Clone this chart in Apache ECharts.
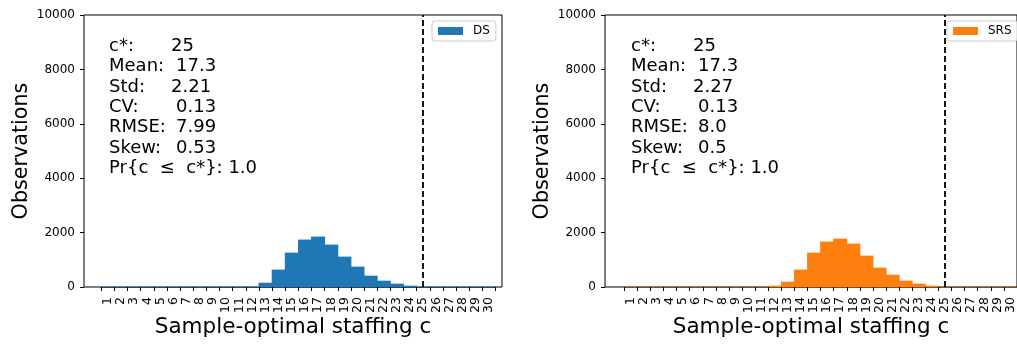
<!DOCTYPE html>
<html>
<head>
<meta charset="utf-8">
<script src="https://cdn.jsdelivr.net/npm/echarts@6/dist/echarts.min.js"></script>
<style>
  html, body { margin: 0; padding: 0; background: #fff; }
  #chart { width: 1017px; height: 345px; }
</style>
</head>
<body>
<div id="chart"></div>
<script>
// staffing levels on the x axis
var categories = ['1', '2', '3', '4', '5', '6', '7', '8', '9', '10',
  '11', '12', '13', '14', '15', '16', '17', '18', '19', '20',
  '21', '22', '23', '24', '25', '26', '27', '28', '29', '30'];

// histogram counts
var dsValues = [0, 0, 0, 0, 0, 0, 0, 0, 0, 0, 0, 0,
  158, 638, 1264, 1743, 1854, 1559, 1117, 748, 416, 232, 122, 48,
  0, 0, 0, 0, 0, 0];
var srsValues = [0, 0, 0, 0, 0, 0, 0, 0, 0, 0, 0, 48,
  195, 638, 1264, 1669, 1780, 1596, 1153, 711, 453, 232, 122, 48,
  0, 0, 0, 0, 0, 0];

var cStar = '25';
var yTicks = [0, 2000, 4000, 6000, 8000, 10000];

// stats box
var statLabels = ['c*:', 'Mean:', 'Std:', 'CV:', 'RMSE:', 'Skew:'];
var dsStats = ['25', '17.3', '2.21', '0.13', '7.99', '0.53'];
var srsStats = ['25', '17.3', '2.27', '0.13', '8.0', '0.5'];
var probLabel = 'Pr{c  \u2264  c*}: ';
var dsProb = '1.0';
var srsProb = '1.0';

var FONT = 'DejaVu Sans';
var BLUE = '#1f77b4', ORANGE = '#ff7f0e';
var TXT = 18, LH = 20.4;

function statsText(vals) {
  var lines = [];
  for (var i = 0; i < statLabels.length; i++) {
    var w = (i === 0 || i === 2) ? 'a' : 'b';
    lines.push('{' + w + '|' + statLabels[i] + '}{v|' + vals[i] + '}');
  }
  return lines.join('\n');
}

var richStyle = {
  a: { width: 62, fontSize: TXT, lineHeight: LH, fontFamily: FONT, color: '#000' },
  b: { width: 67, fontSize: TXT, lineHeight: LH, fontFamily: FONT, color: '#000' },
  v: { fontSize: TXT, lineHeight: LH, fontFamily: FONT, color: '#000' }
};

function frameX(grid) {
  return {
    gridIndex: grid, type: 'value', min: 0, max: 1,
    axisLine: { show: false }, axisTick: { show: false },
    axisLabel: { show: false }, splitLine: { show: false },
    name: 'Sample-optimal staffing c', nameLocation: 'middle', nameGap: 29,
    nameTextStyle: { fontSize: 21.5, fontFamily: FONT, color: '#000' }
  };
}
function barX(grid, baseColor) {
  return {
    gridIndex: grid, type: 'category', data: categories,
    axisLine: { show: true, lineStyle: { color: baseColor, width: 1 } },
    axisTick: { show: true, length: 4, lineStyle: { color: '#000', width: 1 } },
    axisLabel: { interval: 0, rotate: 90, margin: 10, fontSize: 12.5, fontFamily: FONT, color: '#000' },
    splitLine: { show: false }, splitArea: { show: false }
  };
}
function frameY(grid) {
  return {
    gridIndex: grid, type: 'value', min: 0, max: 10000, interval: 2000,
    axisLine: { show: false },
    axisTick: { show: true, length: 4, lineStyle: { color: '#000', width: 1 } },
    axisLabel: { margin: 9, fontSize: 12, fontFamily: FONT, color: '#000',
      formatter: function (v) { return yTicks.indexOf(v) >= 0 ? String(v) : ''; } },
    splitLine: { show: false },
    name: 'Observations', nameLocation: 'middle', nameGap: 52,
    nameTextStyle: { fontSize: 20.7, fontFamily: FONT, color: '#000' }
  };
}
function barY(grid) {
  return { gridIndex: grid, type: 'value', min: 0, max: 10000, show: false };
}
function cLine() {
  return {
    silent: true, symbol: 'none', label: { show: false },
    lineStyle: { color: '#000', type: [6, 3], width: 1.8 },
    data: [{ xAxis: cStar }]
  };
}
function legendAt(left, name) {
  return {
    left: left, top: 21, data: [name], icon: 'rect',
    itemWidth: 25, itemHeight: 8, padding: [4, 6, 4, 6],
    borderColor: '#cccccc', borderWidth: 1, borderRadius: 3,
    backgroundColor: 'rgba(255,255,255,0.8)',
    textStyle: { fontSize: 12, fontFamily: FONT, color: '#000', padding: [0, 0, 0, 5] }
  };
}
function statsBlock(left, vals, prob) {
  return [
    { type: 'text', left: left, top: 36, silent: true,
      style: { text: statsText(vals), rich: richStyle, fontFamily: FONT, fontSize: TXT, lineHeight: LH } },
    { type: 'text', left: left, top: 36 + 6 * LH, silent: true,
      style: { text: probLabel + prob, fontFamily: FONT, fontSize: TXT, lineHeight: LH, fill: '#000' } }
  ];
}

var chart = echarts.init(document.getElementById('chart'), null, { renderer: 'canvas' });

chart.setOption({
  animation: false,
  backgroundColor: '#fff',
  grid: [
    { left: 84, top: 15, width: 418, height: 272, show: true, borderColor: '#000', borderWidth: 1, backgroundColor: 'transparent' },
    { left: 101.3, top: 15, width: 394.2, height: 272 },
    { left: 605, top: 15, width: 418, height: 272, show: true, borderColor: '#000', borderWidth: 1, backgroundColor: 'transparent' },
    { left: 624.2, top: 15, width: 394.2, height: 272 }
  ],
  xAxis: [frameX(0), barX(1, '#1a4a72'), frameX(2), barX(3, '#8a4a12')],
  yAxis: [frameY(0), barY(1), frameY(2), barY(3)],
  legend: [legendAt(432, 'DS'), legendAt(947, 'SRS')],
  series: [
    { name: 'DS', type: 'bar', xAxisIndex: 1, yAxisIndex: 1, data: dsValues,
      barWidth: 14, itemStyle: { color: BLUE, borderWidth: 0 },
      markLine: cLine() },
    { name: 'SRS', type: 'bar', xAxisIndex: 3, yAxisIndex: 3, data: srsValues,
      barWidth: 14, itemStyle: { color: ORANGE, borderWidth: 0 },
      markLine: cLine() }
  ],
  graphic: statsBlock(109, dsStats, dsProb).concat(statsBlock(631, srsStats, srsProb))
});
</script>
</body>
</html>
